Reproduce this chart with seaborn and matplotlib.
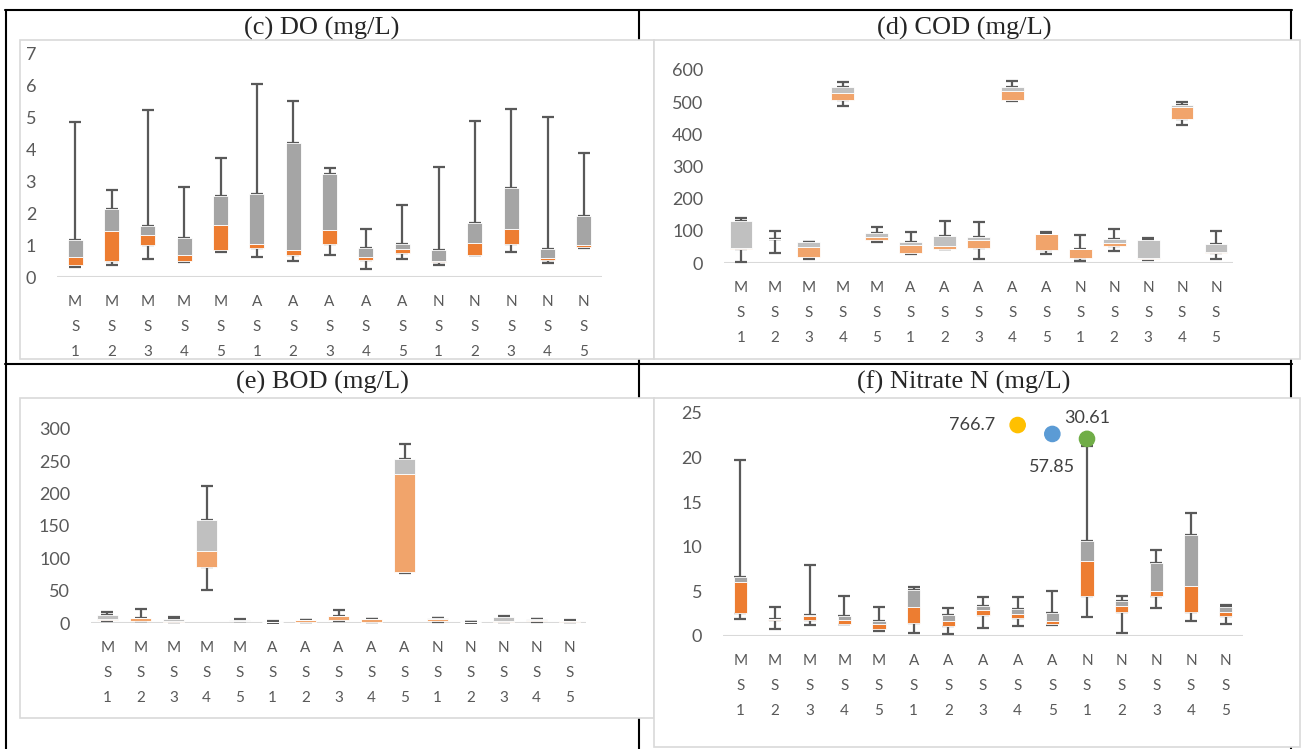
import numpy as np
import matplotlib
matplotlib.use("Agg")
import matplotlib.pyplot as plt
import seaborn as sns
from matplotlib.lines import Line2D
from matplotlib.patches import Rectangle

# categories: season (M/A/N) and site S1..S5
seasons = ["M"] * 5 + ["A"] * 5 + ["N"] * 5
sites = ["1", "2", "3", "4", "5"] * 3
cat_labels = [f"{s}\nS\n{n}" for s, n in zip(seasons, sites)]

# (c) DO
do_min = [0.30, 0.385, 0.57, 0.47, 0.77, 0.625, 0.51, 0.70, 0.25, 0.57, 0.375, 0.68, 0.77, 0.43, 0.91]
do_q1 = [0.385, 0.49, 0.99, 0.49, 0.85, 0.91, 0.69, 1.04, 0.54, 0.74, 0.46, 0.68, 1.02, 0.52, 0.94]
do_med = [0.625, 1.43, 1.30, 0.68, 1.61, 1.03, 0.83, 1.46, 0.625, 0.875, 0.49, 1.06, 1.50, 0.60, 1.00]
do_q3 = [1.16, 2.125, 1.58, 1.23, 2.53, 2.59, 4.18, 3.22, 0.90, 1.03, 0.83, 1.69, 2.77, 0.86, 1.91]
do_max = [4.83, 2.73, 5.21, 2.82, 3.71, 6.03, 5.51, 3.41, 1.51, 2.25, 3.45, 4.89, 5.25, 5.00, 3.89]

# (d) COD
cod_min = [4, 31, 12, 487, 64, 27, 42, 11, 505, 27, 7, 37, 8, 430, 12]
cod_q1 = [44, 74, 18, 506, 70, 31, 43, 46, 506, 40, 14, 54, 13, 448, 31]
cod_med = [48, 76, 51, 530, 80, 55, 52, 72, 536, 89, 42, 61, 17, 485, 33]
cod_q3 = [132, 76, 64, 546, 93, 66, 83, 82, 546, 91, 43, 76, 70, 490, 59]
cod_max = [141, 98, 66, 562, 113, 97, 130, 126, 565, 95, 87, 107, 77, 499, 101]

# (e) BOD
bod_min = [3, 2.5, 1.5, 51.5, 3, 0.5, 2, 3, 1.5, 77.7, 2, 0.5, 2, 2, 1.6]
bod_q1 = [4.6, 3.6, 1.5, 86.5, 3, 1, 2, 4, 1.5, 78.2, 3, 0.8, 2, 3, 1.6]
bod_med = [6, 7, 2.6, 110.7, 3.8, 1.3, 4, 10.8, 5.7, 230.6, 5.7, 1.0, 2.5, 5.2, 3.1]
bod_q3 = [13, 7.5, 5.7, 159.5, 5, 2, 4.5, 11.3, 6.2, 253.7, 7.2, 1.5, 9.3, 5.5, 3.6]
bod_max = [17.5, 21, 8.7, 211.5, 5.7, 2.5, 5, 20, 6.7, 277, 8.2, 2, 10.9, 6.2, 4.7]

# (f) Nitrate N
no3_min = [1.9, 0.83, 1.25, 1.3, 0.55, 0.34, 0.26, 0.94, 1.16, 1.2, 2.14, 0.3, 3.15, 1.65, 1.39]
no3_q1 = [2.6, 1.75, 1.75, 1.4, 0.75, 1.43, 1.1, 2.33, 2.06, 1.35, 4.43, 2.74, 4.54, 2.66, 2.25]
no3_med = [6.1, 1.85, 2.2, 1.75, 1.4, 3.2, 1.7, 2.9, 2.5, 1.65, 8.37, 3.34, 5.06, 5.58, 2.66]
no3_q3 = [6.6, 1.9, 2.4, 2.2, 1.65, 5.2, 2.36, 3.38, 3.0, 2.63, 10.7, 3.94, 8.17, 11.28, 3.26]
no3_max = [19.7, 3.3, 8.0, 4.5, 3.3, 5.5, 3.15, 4.35, 4.4, 5.03, 21.25, 4.46, 9.63, 13.76, 3.45]

# outliers shown as coloured dots with their real values as labels
out_cats = ["A\nS\n4", "A\nS\n5", "N\nS\n1"]
out_y = [23.65, 22.65, 22.1]
out_text = ["766.7", "57.85", "30.61"]
out_colors = ["#FFC000", "#5B9BD5", "#70AD47"]

sns.set_style("white")
plt.rcParams["font.family"] = ["Lato", "DejaVu Sans"]

W, H = 1301, 749
fig = plt.figure(figsize=(W / 100, H / 100), dpi=100)


def fx(x):
    return x / W


def fy(y):
    return 1 - y / H


# table grid lines
grid_lines = [((5, 10), (1292, 10)), ((6, 10), (6, 749)), ((639, 10), (639, 749)),
              ((1291, 10), (1291, 749)), ((5, 364), (1292, 364))]
for (x0, y0), (x1, y1) in grid_lines:
    fig.add_artist(Line2D([fx(x0), fx(x1)], [fy(y0), fy(y1)], color="black", lw=1.5,
                          transform=fig.transFigure, zorder=2))

# excel chart areas
for x0, y0, x1, y1 in [(20, 40, 654, 359), (654, 40, 1300, 359), (20, 398, 654, 718), (654, 398, 1300, 747)]:
    fig.add_artist(Rectangle((fx(x0), fy(y1)), fx(x1) - fx(x0), fy(y0) - fy(y1), facecolor="white",
                             edgecolor="#D9D9D9", lw=1.2, transform=fig.transFigure, zorder=3))

titles = [("(c) DO (mg/L)", 322, 28), ("(d) COD (mg/L)", 964, 28),
          ("(e) BOD (mg/L)", 322, 382), ("(f) Nitrate N (mg/L)", 964, 382)]
for t, x, y in titles:
    fig.text(fx(x), fy(y), t, ha="center", va="center", fontsize=19,
             family="Liberation Serif", zorder=6)


def box_panel(px, mins, q1, med, q3, maxs, ymax, ystep, width, c_low, c_high):
    l, r, top, bot = px
    ax = fig.add_axes([fx(l), fy(bot), fx(r) - fx(l), fy(top) - fy(bot)])
    ax.set_zorder(5)
    ax.patch.set_alpha(0)
    mins, q1, med, q3, maxs = map(np.array, (mins, q1, med, q3, maxs))
    sns.barplot(x=cat_labels, y=med - q1, bottom=q1, color=c_low, saturation=1, width=width,
                errorbar=None, edgecolor="white", linewidth=0.6, zorder=2, ax=ax)
    sns.barplot(x=cat_labels, y=q3 - med, bottom=med, color=c_high, saturation=1, width=width,
                errorbar=None, edgecolor="white", linewidth=0.6, zorder=2, ax=ax)
    xs = np.arange(len(cat_labels))
    zero = np.zeros(len(xs))
    ax.errorbar(xs, q1, yerr=[q1 - mins, zero], fmt="none", ecolor="#595959", elinewidth=1.6,
                capsize=4.3, capthick=1.6, zorder=1)
    ax.errorbar(xs, q3, yerr=[zero, maxs - q3], fmt="none", ecolor="#595959", elinewidth=1.6,
                capsize=4.3, capthick=1.6, zorder=1)
    ax.axhline(0, color="#D9D9D9", lw=2.2, zorder=0.5)
    ax.set_xlim(-0.5, len(xs) - 0.5)
    ax.set_ylim(0, ymax)
    ax.set_yticks(np.arange(0, ymax + ystep / 2, ystep))
    ax.set_xlabel("")
    ax.set_ylabel("")
    sns.despine(ax=ax, left=True, bottom=True)
    ax.tick_params(axis="y", length=0, pad=15, labelsize=13, labelcolor="#595959")
    ax.tick_params(axis="x", length=0, pad=13, labelsize=11, labelcolor="#595959")
    for lab in ax.get_xticklabels():
        lab.set_linespacing(2.0)
    return ax


orange, gray = "#ED7D31", "#A5A5A5"
orange_l, gray_l = "#F1A46B", "#C0C0C0"

box_panel((57, 602, 53, 277), do_min, do_q1, do_med, do_q3, do_max, 7, 1, 0.41, orange, gray)
box_panel((724, 1233, 70, 263), cod_min, cod_q1, cod_med, cod_q3, cod_max, 600, 100, 0.67, orange_l, gray_l)
box_panel((91, 586, 429, 623), bod_min, bod_q1, bod_med, bod_q3, bod_max, 300, 50, 0.66, orange_l, gray_l)
ax_f = box_panel((723, 1243, 413, 636), no3_min, no3_q1, no3_med, no3_q3, no3_max, 25, 5, 0.39, orange, gray)

ox = [cat_labels.index(c) for c in out_cats]
ax_f.scatter(ox, out_y, s=120, c=out_colors, zorder=4, clip_on=False)
offsets = [((-16, 0), "right", "center"), ((0, -24), "center", "center"), ((0, 15), "center", "center")]
for x, y, t, (off, ha, va) in zip(ox, out_y, out_text, offsets):
    ax_f.annotate(t, (x, y), xytext=off, textcoords="offset points", ha=ha, va=va,
                  fontsize=13, color="#404040", annotation_clip=False)

fig.savefig("out.png", dpi=100)
